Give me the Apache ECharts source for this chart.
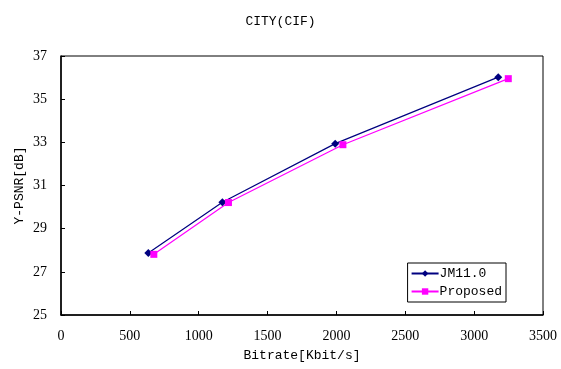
<!DOCTYPE html>
<html><head><meta charset="utf-8">
<script src="https://cdn.jsdelivr.net/npm/echarts@6/dist/echarts.min.js"></script>
<style>html,body{margin:0;padding:0;background:#fff}#c{width:561px;height:369px}</style>
</head><body><div id="c"></div>
<script>
var jmBitrate = [634, 1172, 1991, 3175];
var jmPsnr = [27.87, 30.22, 32.94, 36.02];
var propBitrate = [674, 1216, 2047, 3248];
var propPsnr = [27.81, 30.21, 32.89, 35.95];
var xTicks = [0, 500, 1000, 1500, 2000, 2500, 3000, 3500];
var yTicks = [25, 27, 29, 31, 33, 35, 37];

function pairs(xs, ys){ return xs.map(function(x,i){ return [x, ys[i]]; }); }
var font = "'Liberation Serif', 'DejaVu Serif', serif";
var mono = "'Liberation Mono', 'DejaVu Sans Mono', monospace";
var chart = echarts.init(document.getElementById('c'));
chart.setOption({
  animation: false,
  backgroundColor: '#fff',
  title: { text: 'CITY(CIF)', left: 'center', top: 10,
    textStyle: { fontFamily: mono, fontSize: 13, fontWeight: 'normal', color: '#000' } },
  grid: { left: 61, right: 18, top: 56, bottom: 54, show: true, borderColor: '#000', borderWidth: 1 },
  xAxis: { type: 'value', min: xTicks[0], max: xTicks[xTicks.length-1], interval: 500,
    name: 'Bitrate[Kbit/s]', nameLocation: 'middle', nameGap: 34, nameMoveOverlap: false,
    nameTextStyle: { fontFamily: mono, fontSize: 13, color: '#000' },
    axisLine: { show: true, lineStyle: { color: '#000', width: 1.5 } },
    axisTick: { show: true, inside: true, length: 4, lineStyle: { color: '#000' } },
    axisLabel: { fontFamily: font, fontSize: 14, color: '#000', margin: 14,
      formatter: function(v){ return String(v); } },
    splitLine: { show: false } },
  yAxis: { type: 'value', min: yTicks[0], max: yTicks[yTicks.length-1], interval: 2,
    name: 'Y-PSNR[dB]', nameLocation: 'middle', nameGap: 35, nameRotate: 90, nameMoveOverlap: false,
    nameTextStyle: { fontFamily: mono, fontSize: 13, color: '#000' },
    axisLine: { show: true, lineStyle: { color: '#000', width: 1.5 } },
    axisTick: { show: true, inside: true, length: 4, lineStyle: { color: '#000' } },
    axisLabel: { fontFamily: font, fontSize: 14, color: '#000', margin: 14 },
    splitLine: { show: false } },
  legend: { orient: 'vertical', right: 55, bottom: 67, padding: [4, 4, 4, 3],
    itemGap: 5, itemWidth: 27, itemHeight: 8,
    borderColor: '#000', borderWidth: 1, backgroundColor: '#fff',
    textStyle: { fontFamily: mono, fontSize: 13, color: '#000', padding: [0,0,0,-4] },
    data: ['JM11.0', 'Proposed'] },
  series: [
    { name: 'JM11.0', type: 'line', data: pairs(jmBitrate, jmPsnr), symbol: 'diamond', symbolSize: 8,
      lineStyle: { color: '#000080', width: 1.2 }, itemStyle: { color: '#000080' } },
    { name: 'Proposed', type: 'line', data: pairs(propBitrate, propPsnr), symbol: 'rect', symbolSize: 7,
      lineStyle: { color: '#FF00FF', width: 1.2 }, itemStyle: { color: '#FF00FF' } }
  ]
});
</script></body></html>
